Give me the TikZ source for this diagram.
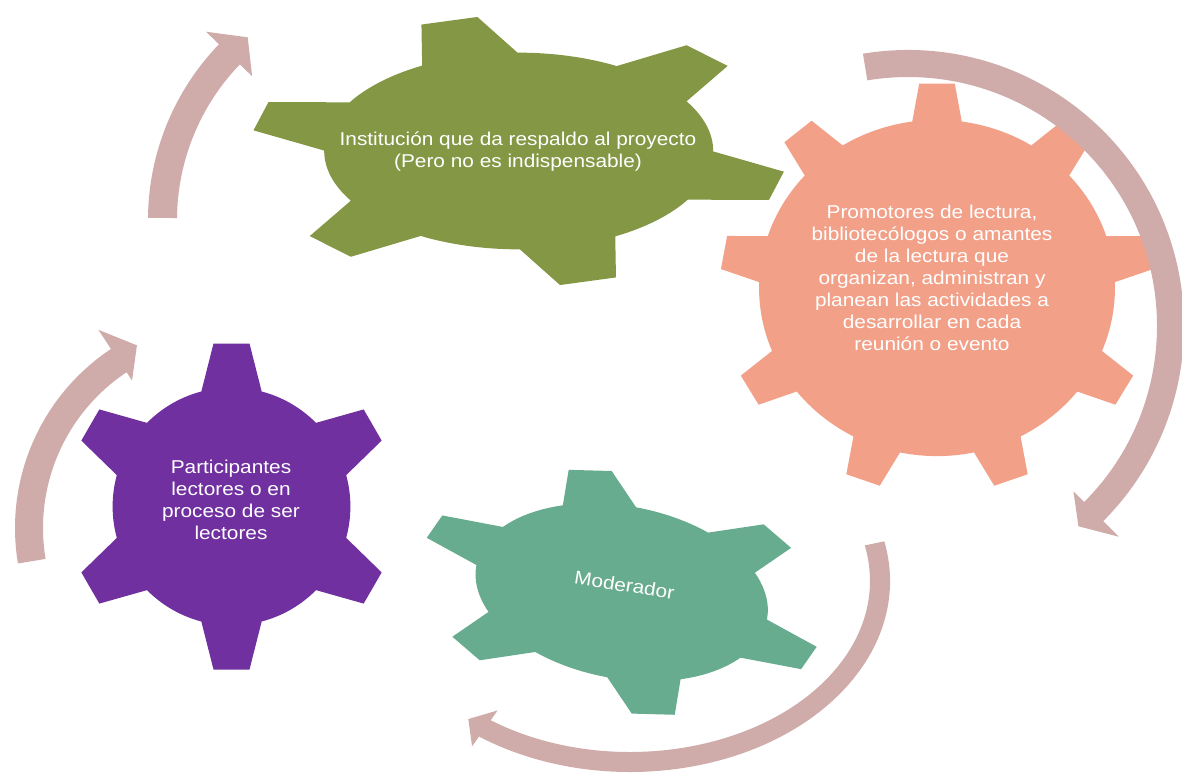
\documentclass[tikz,border=0pt]{standalone}
\usepackage{fontspec}
\newfontfamily\gfont[FakeStretch=1.12]{Liberation Sans}
\definecolor{olivegear}{RGB}{132,151,69}
\definecolor{salmongear}{RGB}{242,160,136}
\definecolor{purplegear}{RGB}{112,48,160}
\definecolor{tealgear}{RGB}{104,172,143}
\definecolor{arrowc}{RGB}{207,171,169}
\tikzset{
  geartext/.style={text=white, font=\gfont\fontsize{18.6pt}{22pt}\selectfont, align=center, inner sep=0pt},
  band/.style={fill=arrowc}
}
% #1 options, #2 teeth-1, #3 body radius, #4 base half angle, #5 tip half angle
\newcommand\gearfill[5]{%
  \fill[#1] ({90-#4}:#3)
    \foreach \k in {0,...,#2}{
      -- ({90+\k*360/(#2+1)-#5}:1) -- ({90+\k*360/(#2+1)+#5}:1) -- ({90+\k*360/(#2+1)+#4}:#3)
      arc[start angle={90+\k*360/(#2+1)+#4}, end angle={90+(\k+1)*360/(#2+1)-#4}, radius=#3]
    } -- cycle;}
\begin{document}
\begin{tikzpicture}[x=1pt,y=1pt]
\useasboundingbox (0,0) rectangle (1182,-773);
\fill[white] (0,0) rectangle (1182,-773);

% gears
\gearfill{olivegear, shift={(518.7pt,-151pt)}, x={(259.1pt,35.2pt)}, y={(-69.7pt,131pt)}}{5}{0.725}{14.7}{6.2}
\gearfill{salmongear, shift={(937pt,-288pt)}, x={(217pt,0pt)}, y={(0pt,205pt)}}{8}{0.82}{8}{4.7}
\gearfill{purplegear, shift={(231.5pt,-506.5pt)}, x={(164pt,0pt)}, y={(0pt,164pt)}}{5}{0.725}{14.7}{6.3}
\gearfill{tealgear, shift={(621.7pt,-592.3pt)}, x={(199.1pt,-5.5pt)}, y={(-31.7pt,122.6pt)}}{5}{0.725}{14.7}{6.2}

% arrows
\begin{scope}[shift={(401pt,-220pt)}]
  \fill[band] (179.5:253pt) arc[start angle=179.5, end angle=136, radius=253pt]
    -- (136:271pt) -- (130:238.5pt) -- (136:207pt) -- (136:224pt)
    arc[start angle=136, end angle=179.5, radius=224pt] -- cycle;
\end{scope}
\begin{scope}[shift={(908pt,-326pt)}]
  \fill[band] (99.4:276pt) arc[start angle=99.4, end angle=-45, radius=276pt]
    -- (-45:298pt) -- (-49.6:263pt) -- (-45:234pt) -- (-45:249pt)
    arc[start angle=-45, end angle=99.4, radius=249pt] -- cycle;
\end{scope}
\begin{scope}[shift={(630pt,-581pt)}]
  \fill[band] (12:260pt and 191pt) arc[start angle=12, end angle=-125.5, x radius=260pt, y radius=191pt]
    -- (-125.5:272pt and 203pt) -- (-130.3:250pt and 181pt) -- (-125.5:228pt and 159pt)
    -- (-125.5:240pt and 171pt)
    arc[start angle=-125.5, end angle=12, x radius=240pt, y radius=171pt] -- cycle;
\end{scope}
\begin{scope}[shift={(230pt,-528pt)}]
  \fill[band] (189.5:215pt) arc[start angle=189.5, end angle=123.6, radius=215pt]
    -- (123.6:238pt) -- (117:205pt) -- (123.6:177pt) -- (123.6:187pt)
    arc[start angle=123.6, end angle=189.5, radius=187pt] -- cycle;
\end{scope}

% texts
\node[geartext] (inst) at (518,-151.5) {Institución que da respaldo al proyecto\\(Pero no es indispensable)};
\node[geartext] (prom) at (932,-278) {Promotores de lectura,\\bibliotecólogos o amantes\\de la lectura que\\organizan, administran y\\planean las actividades a\\desarrollar en cada\\reunión o evento};
\node[geartext] (part) at (231,-499.5) {Participantes\\lectores o en\\proceso de ser\\lectores};
\node[geartext, rotate=-9] (mod) at (624.5,-585) {Moderador};
\end{tikzpicture}
\end{document}
